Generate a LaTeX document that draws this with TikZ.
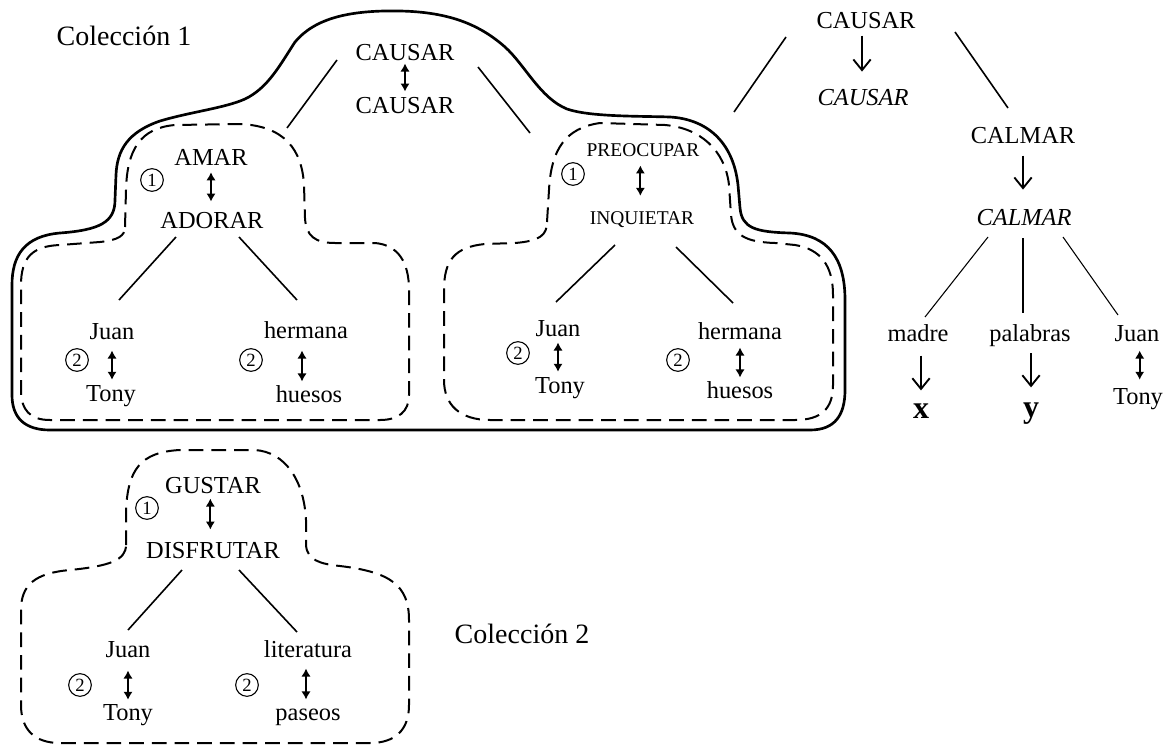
\documentclass[tikz,border=0pt]{standalone}
\usepackage{fontspec}
\setmainfont{Liberation Serif}
\usetikzlibrary{arrows.meta}
\newcommand\fbase{\fontsize{18.3}{20}\selectfont}
\newcommand\ftitle{\fontsize{21}{24}\selectfont}
\newcommand\fsmall{\fontsize{14.6}{16}\selectfont}
\newcommand\fnum{\fontsize{14}{15}\selectfont}
\newcommand\fbig{\fontsize{24}{26}\selectfont\bfseries}
\begin{document}
\begin{tikzpicture}[x=0.75pt,y=-0.75pt,
  txt/.style={inner sep=0pt,anchor=base,font=\fbase},
  sm/.style={inner sep=0pt,anchor=base,font=\fsmall},
  big/.style={inner sep=0pt,anchor=base,font=\fbig},
  title/.style={inner sep=0pt,anchor=base,font=\ftitle},
  num/.style={circle,draw,line width=0.8pt,inner sep=0pt,minimum size=17pt,font=\fnum},
  cloud/.style={line width=2pt,line join=round},
  dcloud/.style={line width=1.5pt,dash pattern=on 11pt off 6pt,line join=round},
  tline/.style={line width=1.2pt},
  thin/.style={line width=0.8pt},
  dbl/.style={line width=1.3pt,{Latex[length=6pt,width=7pt]}-{Latex[length=6pt,width=7pt]}},
  down/.style={line width=1.4pt,-{Straight Barb[length=8pt,width=13pt]}}]
\useasboundingbox (0,0) rectangle (1169,746);

% ---------- outlines ----------
\draw[cloud] (50,430) .. controls (25,430) and (12,418) .. (12,395)
  -- (12,285) .. controls (12,255) and (25,236) .. (60,233)
  .. controls (100,230) and (115,222) .. (115,200)
  -- (116,175) .. controls (117,150) and (128,132) .. (160,121)
  .. controls (190,112) and (225,108) .. (245,99)
  .. controls (268,88) and (280,65) .. (295,42)
  .. controls (315,18) and (350,10) .. (400,11)
  .. controls (450,12) and (480,25) .. (505,47)
  .. controls (525,65) and (540,98) .. (567,109)
  .. controls (590,117) and (640,116) .. (670,117)
  .. controls (705,119) and (733,140) .. (738,185)
  -- (740,208) .. controls (742,228) and (755,232) .. (790,233)
  .. controls (828,235) and (845,258) .. (845,300)
  -- (845,390) .. controls (845,415) and (835,430) .. (810,430) -- cycle;

\draw[dcloud] (125,227) -- (126,190) .. controls (127,150) and (140,128) .. (175,125)
  -- (240,124) .. controls (285,126) and (302,150) .. (304,185)
  -- (305,218) .. controls (306,236) and (315,243) .. (335,243)
  -- (375,243) .. controls (398,245) and (409,262) .. (409,290)
  -- (409,395) .. controls (409,412) and (398,420) .. (380,420)
  -- (50,420) .. controls (30,420) and (21,410) .. (21,390)
  -- (21,285) .. controls (21,258) and (32,246) .. (60,245)
  -- (100,242) .. controls (118,240) and (125,236) .. (125,227) -- cycle;

\draw[dcloud] (547,222) -- (549,190) .. controls (551,150) and (565,128) .. (600,123)
  -- (665,125) .. controls (700,128) and (725,150) .. (729,185)
  -- (731,215) .. controls (733,235) and (745,242) .. (775,243)
  -- (795,245) .. controls (820,249) and (833,265) .. (833,295)
  -- (833,385) .. controls (833,408) and (822,420) .. (795,420)
  -- (490,420) .. controls (460,420) and (444,405) .. (444,380)
  -- (444,290) .. controls (444,260) and (455,247) .. (485,244)
  -- (515,243) .. controls (540,241) and (547,235) .. (547,222) -- cycle;

\draw[dcloud] (126,545) -- (126,510) .. controls (128,470) and (140,452) .. (180,450)
  -- (255,450) .. controls (285,452) and (304,480) .. (306,520)
  -- (306,545) .. controls (307,560) and (320,564) .. (340,566)
  .. controls (390,572) and (409,585) .. (409,620)
  -- (409,705) .. controls (409,730) and (395,743) .. (370,743)
  -- (60,743) .. controls (35,743) and (21,730) .. (21,705)
  -- (21,610) .. controls (21,585) and (35,573) .. (70,570)
  .. controls (110,566) and (126,560) .. (126,545) -- cycle;

% ---------- Coleccion 1 ----------
\node[title] (col1) at (124,45) {Colección 1};
\node[txt] (cA1) at (405,60) {CAUSAR};
\node[txt] (cA2) at (405,113) {CAUSAR};
\node[txt] (amar) at (211,165) {AMAR};
\node[txt] (adorar) at (212,228) {ADORAR};
\node[txt] (juanA) at (112,339) {Juan};
\node[txt] (tonyA) at (111,401) {Tony};
\node[txt] (hermA) at (306,338) {hermana};
\node[txt] (huesA) at (309,402) {huesos};
\node[sm] (preo) at (643,156) {PREOCUPAR};
\node[sm] (inq) at (642,224) {INQUIETAR};
\node[txt] (juanB) at (558,336) {Juan};
\node[txt] (tonyB) at (560,393) {Tony};
\node[txt] (hermB) at (740,339) {hermana};
\node[txt] (huesB) at (740,398) {huesos};
\node[num] (n1a) at (152,180) {1};
\node[num] (n1b) at (573,174) {1};
\node[num] (n2a) at (77,360) {2};
\node[num] (n2b) at (251,360) {2};
\node[num] (n2c) at (518,353) {2};
\node[num] (n2d) at (678,360) {2};

\draw[dbl,shorten <=2.25pt,shorten >=3.75pt] (cA1.south) -- (cA1.south |- cA2.north);
\draw[dbl,shorten <=5.25pt,shorten >=7.5pt] (amar.south) -- (amar.south |- adorar.north);
\draw[dbl,shorten <=8.25pt,shorten >=3.75pt] (juanA.south) -- (juanA.south |- tonyA.north);
\draw[dbl,shorten <=9pt,shorten >=2.5pt] ([xshift=-3pt]hermA.south) -- ([xshift=-3pt]hermA.south |- huesA.north);
\draw[dbl,shorten <=6.75pt,shorten >=11.25pt] ([xshift=-2pt]preo.south) -- ([xshift=-2pt]preo.south |- inq.north);
\draw[dbl,shorten <=4.5pt,shorten >=3.75pt] (juanB.south) -- (juanB.south |- tonyB.north);
\draw[dbl,shorten <=6pt,shorten >=2.5pt] (hermB.south) -- (hermB.south |- huesB.north);

\coordinate (l1s) at (337,60);  \coordinate (l1e) at (287,128);
\coordinate (l2s) at (478,67);  \coordinate (l2e) at (530,133);
\draw[tline] (l1s) -- (l1e);
\draw[tline] (l2s) -- (l2e);
\coordinate (a1s) at (176,237); \coordinate (a1e) at (119,300);
\coordinate (a2s) at (239,237); \coordinate (a2e) at (297,300);
\draw[tline] (a1s) -- (a1e);
\draw[tline] (a2s) -- (a2e);
\coordinate (b1s) at (615,245); \coordinate (b1e) at (556,302);
\coordinate (b2s) at (676,247); \coordinate (b2e) at (733,303);
\draw[tline] (b1s) -- (b1e);
\draw[tline] (b2s) -- (b2e);

% ---------- right tree ----------
\node[txt] (rcaus) at (866,28) {CAUSAR};
\node[txt] (rcausi) at (863,105) {\itshape CAUSAR};
\node[txt] (calm) at (1023,143) {CALMAR};
\node[txt] (calmi) at (1024,225) {\itshape CALMAR};
\node[txt] (madre) at (918,341) {madre};
\node[txt] (pal) at (1030,341) {palabras};
\node[txt] (juanC) at (1137,341) {Juan};
\node[big] (bx) at (921,418) {x};
\node[big] (by) at (1031,417) {y};
\node[txt] (tonyC) at (1138,404) {Tony};

\draw[down,shorten <=5.25pt,shorten >=12.75pt] ([xshift=-3pt]rcaus.south) -- ([xshift=-3pt]rcaus.south |- rcausi.north);
\draw[down,shorten <=9pt,shorten >=14.25pt] (calm.south) -- (calm.south |- calmi.north);
\draw[down,shorten <=10.5pt,shorten >=9.5pt] (bx |- madre.south) -- (bx.north);
\draw[down,shorten <=5pt,shorten >=11pt] (by |- pal.south) -- (by.north);
\draw[dbl,shorten <=6.75pt,shorten >=6pt] ([xshift=2pt]juanC.south) -- ([xshift=2pt]juanC.south |- tonyC.north);

\coordinate (r1s) at (786,37);  \coordinate (r1e) at (734,112);
\coordinate (r2s) at (955,32);  \coordinate (r2e) at (1008,108);
\draw[tline] (r1s) -- (r1e);
\draw[tline] (r2s) -- (r2e);
\coordinate (m1s) at (988,237);  \coordinate (m1e) at (925,317);
\coordinate (m2s) at (1023,238); \coordinate (m2e) at (1023,313);
\coordinate (m3s) at (1063,237); \coordinate (m3e) at (1118,315);
\draw[thin] (m1s) -- (m1e);
\draw[thin] (m2s) -- (m2e);
\draw[thin] (m3s) -- (m3e);

% ---------- Coleccion 2 ----------
\node[txt] (gust) at (213,493) {GUSTAR};
\node[txt] (disf) at (213,558) {DISFRUTAR};
\node[txt] (juanD) at (128,657) {Juan};
\node[txt] (tonyD) at (128,720) {Tony};
\node[txt] (lit) at (308,657) {literatura};
\node[txt] (pas) at (308,720) {paseos};
\node[title] (col2) at (522,643) {Colección 2};
\node[num] (n1c) at (147,508) {1};
\node[num] (n2e) at (80,685) {2};
\node[num] (n2f) at (247,685) {2};

\draw[dbl,shorten <=3.75pt,shorten >=9pt] ([xshift=-2pt]gust.south) -- ([xshift=-2pt]gust.south |- disf.north);
\draw[dbl,shorten <=9.75pt,shorten >=3pt] (juanD.south) -- (juanD.south |- tonyD.north);
\draw[dbl,shorten <=8.25pt,shorten >=6.6pt] ([xshift=-1.5pt]lit.south) -- ([xshift=-1.5pt]lit.south |- pas.north);

\coordinate (d1s) at (182,570); \coordinate (d1e) at (128,630);
\coordinate (d2s) at (239,570); \coordinate (d2e) at (297,632);
\draw[tline] (d1s) -- (d1e);
\draw[tline] (d2s) -- (d2e);
\end{tikzpicture}
\end{document}
